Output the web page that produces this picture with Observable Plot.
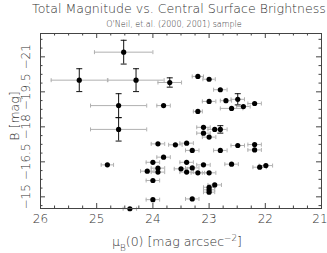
<!DOCTYPE html>
<html><head><meta charset="utf-8">
<script src="https://cdn.jsdelivr.net/npm/d3@7"></script>
<script src="https://cdn.jsdelivr.net/npm/@observablehq/plot@0.6"></script>
<style>body{margin:0;background:#fff} svg{display:block}</style>
</head><body><div id="chart"></div>
<script>
const title = "Total Magnitude vs. Central Surface Brightness";
const subtitle = "O'Neil, et.al. (2000, 2001) sample";
const xLabel = "μB(0) [mag arcsec−2]";
const yLabel = "B [mag]";
const xTicks = [26, 25, 24, 23, 22, 21];
const yTicks = [-15, -16.5, -18, -19.5, -21];

// central surface brightness mu_B(0)
const mu = [25.31, 24.52, 24.30, 24.61, 24.61, 23.70, 23.20, 23.00, 22.80, 23.81,
  23.00, 23.20, 22.70, 22.49, 22.60, 22.39, 22.19, 23.10, 23.10, 22.90,
  22.80, 23.00, 23.91, 23.60, 23.40, 23.30, 22.80, 23.81, 24.00, 24.81,
  23.40, 23.91, 23.50, 23.30, 23.10, 24.10, 23.91, 23.40, 23.20, 23.00,
  24.00, 22.90, 23.00, 23.00, 23.00, 24.00, 23.30, 24.41, 22.49, 22.19,
  22.19, 22.60, 22.10, 21.99];
// total magnitude B
const mag = [-20.00, -21.20, -20.00, -18.91, -17.89, -19.90, -20.16, -20.04, -19.59, -18.91,
  -19.09, -18.66, -19.12, -19.18, -18.79, -18.87, -19.00, -17.98, -17.73, -17.89,
  -17.89, -17.56, -17.27, -17.23, -17.30, -16.99, -16.99, -16.70, -16.48, -16.37,
  -16.48, -16.23, -16.20, -16.24, -16.37, -16.10, -16.06, -16.06, -16.03, -16.03,
  -15.70, -15.51, -15.41, -15.30, -15.20, -14.88, -14.91, -14.49, -17.20, -17.24,
  -17.01, -16.40, -16.27, -16.34];
const muErr = [0.50, 0.52, 0.50, 0.50, 0.50, 0.21, 0.10, 0.11, 0.12, 0.12,
  0.12, 0.08, 0.10, 0.12, 0.20, 0.12, 0.12, 0.12, 0.12, 0.12,
  0.12, 0.12, 0.12, 0.12, 0.12, 0.12, 0.12, 0.12, 0.12, 0.11,
  0.12, 0.12, 0.12, 0.12, 0.12, 0.12, 0.12, 0.12, 0.12, 0.12,
  0.12, 0.12, 0.10, 0.10, 0.10, 0.12, 0.12, 0.12, 0.12, 0.12,
  0.12, 0.12, 0.12, 0.12];
const magErr = [0.49, 0.51, 0.49, 0.51, 0.50, 0.20, 0.08, 0.08, 0.08, 0.08,
  0.08, 0.08, 0.08, 0.24, 0.08, 0.08, 0.08, 0.08, 0.08, 0.08,
  0.16, 0.08, 0.08, 0.08, 0.08, 0.08, 0.08, 0.08, 0.08, 0.08,
  0.08, 0.08, 0.08, 0.08, 0.08, 0.08, 0.08, 0.08, 0.08, 0.08,
  0.08, 0.08, 0.08, 0.08, 0.08, 0.08, 0.08, 0.08, 0.08, 0.08,
  0.08, 0.08, 0.08, 0.08];

const idx = d3.range(mu.length);
const vIdx = idx.filter(i => magErr[i] > 0.12);
const xMinor = d3.range(21, 26.0001, 0.25).filter(v => !xTicks.includes(v));
const yMinor = d3.range(-21.75, -14.5, 0.375).filter(v => !yTicks.some(t => Math.abs(t - v) < 1e-6));

const vbar = {draw(ctx, size) { const r = Math.sqrt(size / Math.PI); ctx.moveTo(0, -r); ctx.lineTo(0, r); }};
const hbar = {draw(ctx, size) { const r = Math.sqrt(size / Math.PI); ctx.moveTo(-r, 0); ctx.lineTo(r, 0); }};

const W = 327, H = 253, mT = 33, mB = 45, mL = 40, mR = 6;
const iw = W - mL - mR, ih = H - mT - mB;
const axisColor = "#444";
const textColor = "#333";
const font = "DejaVu Sans";

const hCaps = idx.flatMap(i => [{x: mu[i] - muErr[i], y: mag[i]}, {x: mu[i] + muErr[i], y: mag[i]}]);
const vCaps = vIdx.flatMap(i => [{x: mu[i], y: mag[i] - magErr[i]}, {x: mu[i], y: mag[i] + magErr[i]}]);

const txt = {fill: textColor, textAnchor: "middle", lineAnchor: "middle", fontWeight: 300};
const xInner = xTicks.slice(0, -1);
const xLast = xTicks.slice(-1);

const plot = Plot.plot({
  width: W, height: H,
  marginTop: mT, marginBottom: mB, marginLeft: mL, marginRight: mR,
  style: {fontFamily: font, background: "#fff"},
  x: {domain: [26, 21], axis: null},
  y: {domain: [-14.5, -22], axis: null},
  marks: [
    // horizontal error bars (gray)
    Plot.ruleY(idx, {y: i => mag[i], x1: i => mu[i] - muErr[i], x2: i => mu[i] + muErr[i], stroke: "#b0b0b0", strokeWidth: 1}),
    Plot.dot(hCaps, {x: "x", y: "y", symbol: vbar, r: 2, stroke: "#b0b0b0", fill: "none", strokeWidth: 1}),
    // vertical error bars (black)
    Plot.ruleX(vIdx, {x: i => mu[i], y1: i => mag[i] - magErr[i], y2: i => mag[i] + magErr[i], stroke: "#111", strokeWidth: 1}),
    Plot.dot(vCaps, {x: "x", y: "y", symbol: hbar, r: 3, stroke: "#111", fill: "none", strokeWidth: 1}),
    // points
    Plot.dot(idx, {x: i => mu[i], y: i => mag[i], r: 2.6, fill: "#000", stroke: null}),
    // frame and inward ticks
    Plot.frame({stroke: axisColor, strokeWidth: 1}),
    Plot.tickX(xTicks, {x: d => d, insetTop: ih - 5, stroke: axisColor}),
    Plot.tickX(xMinor, {x: d => d, insetTop: ih - 2.5, stroke: axisColor}),
    Plot.tickX(xTicks, {x: d => d, insetBottom: ih - 5, stroke: axisColor}),
    Plot.tickX(xMinor, {x: d => d, insetBottom: ih - 2.5, stroke: axisColor}),
    Plot.tickY(yTicks, {y: d => d, insetRight: iw - 5, stroke: axisColor}),
    Plot.tickY(yMinor, {y: d => d, insetRight: iw - 2.5, stroke: axisColor}),
    Plot.tickY(yTicks, {y: d => d, insetLeft: iw - 5, stroke: axisColor}),
    Plot.tickY(yMinor, {y: d => d, insetLeft: iw - 2.5, stroke: axisColor}),
    // tick labels
    Plot.text(xInner, {...txt, x: d => d, frameAnchor: "bottom", dy: 11, text: d => String(d), fontSize: 12}),
    Plot.text(xLast, {...txt, x: d => d, frameAnchor: "bottom", dy: 11, dx: -1.5, text: d => String(d), fontSize: 12}),
    Plot.text(yTicks, {...txt, y: d => d, frameAnchor: "left", dx: -14, rotate: -90, text: d => d3.format("~g")(d), fontSize: 12}),
    // titles and axis labels
    Plot.text([title], {...txt, frameAnchor: "top", dy: -25, dx: -2, text: d => d, fontSize: 12.6}),
    Plot.text([subtitle], {...txt, frameAnchor: "top", dy: -9, dx: -7, text: d => d, fontSize: 8}),
    Plot.text([xLabel], {...txt, frameAnchor: "bottom", dy: 33, dx: -4, text: d => d, fontSize: 12.5}),
    Plot.text([yLabel], {...txt, frameAnchor: "left", dx: -26, dy: -5, rotate: -90, text: d => d, fontSize: 12.5})
  ]
});

// render sub/superscripts in the x label
for (const t of plot.querySelectorAll("text")) {
  if (t.textContent === xLabel) {
    const ns = "http://www.w3.org/2000/svg";
    t.textContent = "";
    const parts = [["μ", null], ["B", "sub"], ["(0) [mag arcsec", null], ["−2", "super"], ["]", null]];
    for (const [s, k] of parts) {
      const ts = document.createElementNS(ns, "tspan");
      ts.textContent = s;
      if (k) { ts.setAttribute("baseline-shift", k); ts.setAttribute("font-size", "0.7em"); }
      t.appendChild(ts);
    }
  }
}
document.getElementById("chart").appendChild(plot);
</script>
</body></html>
